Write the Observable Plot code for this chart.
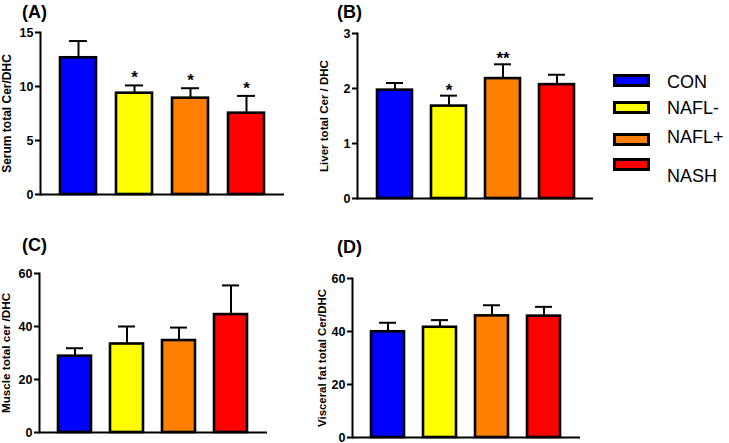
<!DOCTYPE html>
<html>
<head>
<meta charset="utf-8">
<script src="https://cdn.jsdelivr.net/npm/d3@7"></script>
<script src="https://cdn.jsdelivr.net/npm/@observablehq/plot@0.6"></script>
<style>
  html, body { margin: 0; padding: 0; background: #fff; }
  #fig { position: relative; width: 729px; height: 443px; overflow: hidden; font-family: "Liberation Sans", Arial, sans-serif; }
  .panel { position: absolute; }
  .letter { position: absolute; font-weight: bold; font-size: 18px; line-height: 18px; }
  .lg-sw { position: absolute; width: 37px; height: 13px; border: 3px solid #000; box-sizing: border-box; }
  .lg-tx { position: absolute; font-size: 18px; line-height: 18px; color: #000; }
</style>
</head>
<body>
<div id="fig"></div>
<script>
// ---- data ----
const groups = ["CON", "NAFL-", "NAFL+", "NASH"];
const groupColors = ["#0000ff", "#ffff00", "#ff8000", "#ff0000"];

const serumMean = [12.66, 9.38, 8.92, 7.53];
const serumErr = [1.55, 0.72, 0.92, 1.6];
const serumStars = ["", "*", "*", "*"];
const serumTicks = [0, 5, 10, 15];

const liverMean = [1.97, 1.68, 2.18, 2.07];
const liverErr = [0.13, 0.19, 0.26, 0.18];
const liverStars = ["", "*", "**", ""];
const liverTicks = [0, 1, 2, 3];

const muscleMean = [28.8, 33.4, 34.7, 44.5];
const muscleErr = [3.0, 6.6, 4.9, 11.0];
const muscleStars = ["", "", "", ""];
const muscleTicks = [0, 20, 40, 60];

const visceralMean = [39.9, 41.6, 45.9, 45.8];
const visceralErr = [3.4, 2.7, 4.0, 3.5];
const visceralStars = ["", "", "", ""];
const visceralTicks = [0, 20, 40, 60];

// ---- drawing ----
const fig = document.getElementById("fig");

function panel(cfg) {
  const rows = groups.map((g, i) => ({
    g, mean: cfg.mean[i], top: cfg.mean[i] + cfg.err[i], star: cfg.stars[i]
  }));
  const max = cfg.ticks[cfg.ticks.length - 1];
  const chart = Plot.plot({
    width: cfg.width,
    height: cfg.height,
    marginLeft: cfg.ml,
    marginRight: cfg.mr,
    marginTop: cfg.mt,
    marginBottom: cfg.mb,
    style: { fontFamily: "Liberation Sans, Arial, sans-serif", fontSize: "12px", fontWeight: "bold", background: "transparent", color: "#000", overflow: "visible" },
    x: { domain: groups, paddingInner: 0.36, paddingOuter: 0.35, axis: null },
    y: { domain: [0, max] },
    color: { domain: groups, range: groupColors },
    marks: [
      Plot.ruleX(rows, { x: "g", y1: "mean", y2: "top", stroke: "#000", strokeWidth: 2 }),
      Plot.tickY(rows, { x: "g", y: "top", stroke: "#000", strokeWidth: 2, inset: cfg.capInset }),
      Plot.barY(rows, { x: "g", y: "mean", fill: "g", stroke: "#000", strokeWidth: 2.6 }),
      Plot.text(rows, { x: "g", y: "top", text: "star", lineAnchor: "bottom", dy: cfg.starDy, fontSize: 17, fontWeight: "bold", fill: "#000" }),
      Plot.axisY({ ticks: cfg.ticks, tickFormat: d3.format("d"), tickSize: 5, tickPadding: 2, strokeWidth: 2, label: null, fontSize: 12.5, fontWeight: "bold" }),
      Plot.text([cfg.label], { frameAnchor: "left", rotate: -90, dx: -cfg.labelOffset, textAnchor: "middle", lineAnchor: "middle", fontSize: cfg.labelSize, fontWeight: "bold", fill: "#000" }),
      Plot.frame({ anchor: "left", stroke: "#000", strokeWidth: 2 }),
      Plot.ruleY([0], { stroke: "#000", strokeWidth: 2 })
    ]
  });
  chart.classList.add("panel");
  chart.style.left = cfg.left + "px";
  chart.style.top = cfg.top + "px";
  fig.appendChild(chart);

  const L = document.createElement("div");
  L.className = "letter";
  L.textContent = cfg.letter;
  L.style.left = cfg.letterX + "px";
  L.style.top = cfg.letterY + "px";
  fig.appendChild(L);
}

panel({ left: 0, top: 0, width: 290, height: 200, ml: 40, mr: 6, mt: 32, mb: 6,
  mean: serumMean, err: serumErr, stars: serumStars, ticks: serumTicks,
  label: "Serum total Cer/DHC", labelOffset: 33, labelSize: 12, capInset: 9, starDy: -2,
  letter: "(A)", letterX: 22, letterY: 3 });

panel({ left: 290, top: 0, width: 310, height: 205, ml: 67, mr: 7, mt: 33, mb: 7,
  mean: liverMean, err: liverErr, stars: liverStars, ticks: liverTicks,
  label: "Liver total Cer / DHC", labelOffset: 33, labelSize: 11.5, capInset: 9, starDy: 0,
  letter: "(B)", letterX: 337, letterY: 3 });

panel({ left: 0, top: 225, width: 290, height: 218, ml: 39, mr: 23, mt: 48, mb: 11,
  mean: muscleMean, err: muscleErr, stars: muscleStars, ticks: muscleTicks,
  label: "Muscle total cer /DHC", labelOffset: 33, labelSize: 11.7, capInset: 8, starDy: 0,
  letter: "(C)", letterX: 22, letterY: 236 });

panel({ left: 290, top: 225, width: 310, height: 218, ml: 62, mr: 20, mt: 53, mb: 6,
  mean: visceralMean, err: visceralErr, stars: visceralStars, ticks: visceralTicks,
  label: "Visceral fat total Cer/DHC", labelOffset: 30, labelSize: 11.4, capInset: 8, starDy: 0,
  letter: "(D)", letterX: 337, letterY: 238 });

// ---- legend ----
const swTops = [74, 101, 133, 158];
const txTops = [73, 99, 128, 167];
groups.forEach((g, i) => {
  const s = document.createElement("div");
  s.className = "lg-sw";
  s.style.left = "613px";
  s.style.top = swTops[i] + "px";
  s.style.background = groupColors[i];
  fig.appendChild(s);
  const t = document.createElement("div");
  t.className = "lg-tx";
  t.textContent = g;
  t.style.left = "667px";
  t.style.top = txTops[i] + "px";
  fig.appendChild(t);
});
</script>
</body>
</html>
